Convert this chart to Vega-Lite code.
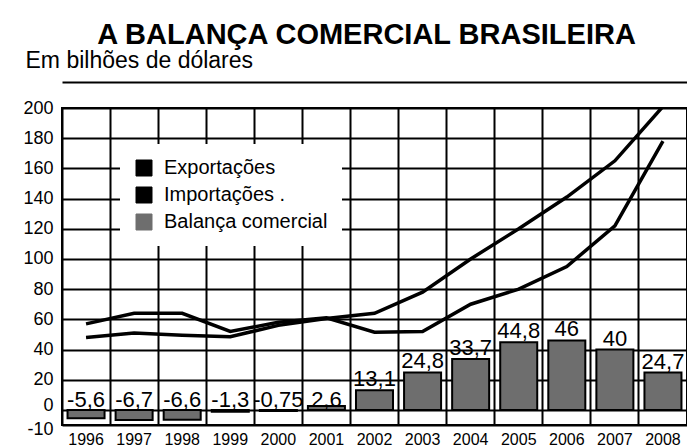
{
  "$schema": "https://vega.github.io/schema/vega-lite/v6.json",
  "width": 625,
  "height": 317,
  "autosize": {"type": "none"},
  "padding": {"left": 62, "top": 108, "right": 0, "bottom": 21},
  "background": "white",
  "title": {
    "text": "A BALANÇA COMERCIAL BRASILEIRA",
    "anchor": "middle",
    "frame": "group",
    "fontSize": 29,
    "fontWeight": "bold",
    "font": "Liberation Sans",
    "color": "black",
    "dx": -8,
    "dy": 5
  },
  "config": {
    "font": "Liberation Sans",
    "view": {"stroke": "black", "strokeWidth": 2},
    "locale": {
      "number": {"decimal": ",", "thousands": ".", "grouping": [3], "currency": ["", ""], "minus": "-"}
    }
  },
  "datasets": {
    "balanca": [
      {"ano": "1996", "balanca": -5.6},
      {"ano": "1997", "balanca": -6.7},
      {"ano": "1998", "balanca": -6.6},
      {"ano": "1999", "balanca": -1.3},
      {"ano": "2000", "balanca": -0.75},
      {"ano": "2001", "balanca": 2.6},
      {"ano": "2002", "balanca": 13.1},
      {"ano": "2003", "balanca": 24.8},
      {"ano": "2004", "balanca": 33.7},
      {"ano": "2005", "balanca": 44.8},
      {"ano": "2006", "balanca": 46},
      {"ano": "2007", "balanca": 40},
      {"ano": "2008", "balanca": 24.7}
    ],
    "linhas": [
      {"ano": "1996", "serie": "Exportações", "valor": 48},
      {"ano": "1997", "serie": "Exportações", "valor": 51},
      {"ano": "1998", "serie": "Exportações", "valor": 49.5},
      {"ano": "1999", "serie": "Exportações", "valor": 48.5},
      {"ano": "2000", "serie": "Exportações", "valor": 56},
      {"ano": "2001", "serie": "Exportações", "valor": 60.5},
      {"ano": "2002", "serie": "Exportações", "valor": 64},
      {"ano": "2003", "serie": "Exportações", "valor": 78},
      {"ano": "2004", "serie": "Exportações", "valor": 100},
      {"ano": "2005", "serie": "Exportações", "valor": 120},
      {"ano": "2006", "serie": "Exportações", "valor": 141},
      {"ano": "2007", "serie": "Exportações", "valor": 165},
      {"ano": "2008", "serie": "Exportações", "valor": 201},
      {"ano": "1996", "serie": "Importações .", "valor": 57},
      {"ano": "1997", "serie": "Importações .", "valor": 64},
      {"ano": "1998", "serie": "Importações .", "valor": 64},
      {"ano": "1999", "serie": "Importações .", "valor": 52},
      {"ano": "2000", "serie": "Importações .", "valor": 58},
      {"ano": "2001", "serie": "Importações .", "valor": 61},
      {"ano": "2002", "serie": "Importações .", "valor": 51.5},
      {"ano": "2003", "serie": "Importações .", "valor": 52},
      {"ano": "2004", "serie": "Importações .", "valor": 70},
      {"ano": "2005", "serie": "Importações .", "valor": 80},
      {"ano": "2006", "serie": "Importações .", "valor": 95},
      {"ano": "2007", "serie": "Importações .", "valor": 122},
      {"ano": "2008", "serie": "Importações .", "valor": 178}
    ]
  },
  "layer": [
    {
      "data": {"name": "balanca"},
      "mark": {"type": "bar", "width": {"band": 0.77}, "stroke": "black", "strokeWidth": 2},
      "encoding": {
        "x": {
          "field": "ano", "type": "ordinal",
          "scale": {"paddingInner": 0, "paddingOuter": 0},
          "axis": {
            "orient": "top", "grid": true, "bandPosition": 0,
            "gridColor": "black", "gridWidth": 2,
            "labels": false, "ticks": false,
            "domain": true, "domainColor": "black", "domainWidth": 2,
            "offset": 26, "title": null
          }
        },
        "y": {
          "field": "balanca", "type": "quantitative",
          "title": "Em bilhões de dólares",
          "scale": {"domain": [-10, 200], "nice": false, "zero": false},
          "axis": {
            "values": [-10, 0, 20, 40, 60, 80, 100, 120, 140, 160, 180, 200],
            "tickCount": 30,
            "grid": true, "gridColor": "black", "gridWidth": 2,
            "ticks": false, "domain": false,
            "labelOverlap": false,
            "labelFontSize": 18, "labelColor": "black", "labelPadding": 9,
            "labelOffset": {
              "condition": [
                {"test": "datum.value == 0", "value": -4},
                {"test": "datum.value == -10", "value": 4}
              ],
              "value": 0
            },
            "titleAngle": 0, "titleX": -37, "titleY": -41,
            "titleAlign": "left", "titleBaseline": "alphabetic",
            "titleFontSize": 23, "titleFontWeight": "normal", "titleColor": "black"
          }
        },
        "color": {
          "datum": "Balança comercial", "type": "nominal",
          "scale": {
            "domain": ["Exportações", "Importações .", "Balança comercial"],
            "range": ["black", "black", "#6e6e6e"]
          },
          "legend": {
            "title": null, "orient": "none", "legendX": 58, "legendY": 36,
            "fillColor": "white", "padding": 14,
            "symbolType": "square", "symbolSize": 256,
            "symbolStrokeColor": "black", "symbolStrokeWidth": 1,
            "labelFontSize": 20, "labelColor": "black", "labelOffset": 10,
            "labelLimit": 400,
            "rowPadding": 7, "labelFont": "Liberation Sans"
          }
        }
      }
    },
    {
      "data": {"name": "linhas"},
      "mark": {"type": "line", "strokeWidth": 3.5, "clip": true},
      "encoding": {
        "x": {
          "field": "ano", "type": "ordinal",
          "axis": {
            "orient": "bottom", "grid": false, "ticks": false, "domain": false,
            "labelFontSize": 16, "labelColor": "black", "labelPadding": 6,
            "labelAngle": 0, "title": null
          }
        },
        "y": {"field": "valor", "type": "quantitative", "title": "Em bilhões de dólares"},
        "color": {"field": "serie", "type": "nominal", "title": null}
      }
    },
    {
      "data": {"name": "balanca"},
      "transform": [{"filter": "datum.balanca < 5"}],
      "mark": {"type": "text", "fontSize": 22, "color": "black", "baseline": "alphabetic", "dy": -3},
      "encoding": {
        "x": {"field": "ano", "type": "ordinal", "axis": null},
        "y": {"datum": 0, "type": "quantitative", "title": "Em bilhões de dólares"},
        "text": {"field": "balanca", "type": "quantitative", "format": "~r"}
      }
    },
    {
      "data": {"name": "balanca"},
      "transform": [{"filter": "datum.balanca >= 5"}],
      "mark": {"type": "text", "fontSize": 22, "color": "black", "baseline": "alphabetic", "dy": -4},
      "encoding": {
        "x": {"field": "ano", "type": "ordinal", "axis": null},
        "y": {"field": "balanca", "type": "quantitative", "title": "Em bilhões de dólares"},
        "text": {"field": "balanca", "type": "quantitative", "format": "~r"}
      }
    }
  ],
  "resolve": {"axis": {"x": "independent"}}
}
